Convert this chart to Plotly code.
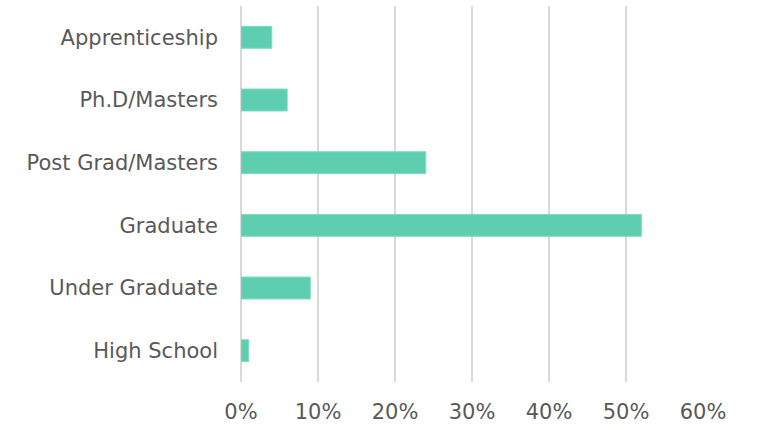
import plotly.graph_objects as go

# Highest level of education, share of respondents
categories = ["High School", "Under Graduate", "Graduate",
              "Post Grad/Masters", "Ph.D/Masters", "Apprenticeship"]
shares = [0.01, 0.09, 0.52, 0.24, 0.06, 0.04]

tick_vals = [0, 0.1, 0.2, 0.3, 0.4, 0.5, 0.6]

BAR = "#5DCFB0"
GRID = "#D9D9D9"
TEXT = "#595959"

fig = go.Figure(
    go.Bar(
        x=shares,
        y=categories,
        orientation="h",
        width=0.35,
        marker=dict(color=BAR, line=dict(color="#7FDCC3", width=1)),
    )
)

fig.update_layout(
    width=761,
    height=430,
    margin=dict(l=241, r=58, t=6, b=45),
    paper_bgcolor="white",
    plot_bgcolor="white",
    showlegend=False,
    font=dict(family="DejaVu Sans", size=21, color=TEXT),
    xaxis=dict(
        range=[0, 0.6],
        tickvals=tick_vals,
        tickformat=".0%",
        showgrid=True,
        gridcolor=GRID,
        gridwidth=2,
        zeroline=True,
        zerolinecolor=GRID,
        zerolinewidth=2,
        showline=False,
        ticks="",
        ticklen=0,
        ticklabelstandoff=15,
        tickfont=dict(size=21),
    ),
    yaxis=dict(
        type="category",
        showgrid=False,
        zeroline=False,
        showline=False,
        ticks="",
        ticklabelstandoff=22,
        tickfont=dict(size=21),
    ),
)

fig.write_html("out.html")
